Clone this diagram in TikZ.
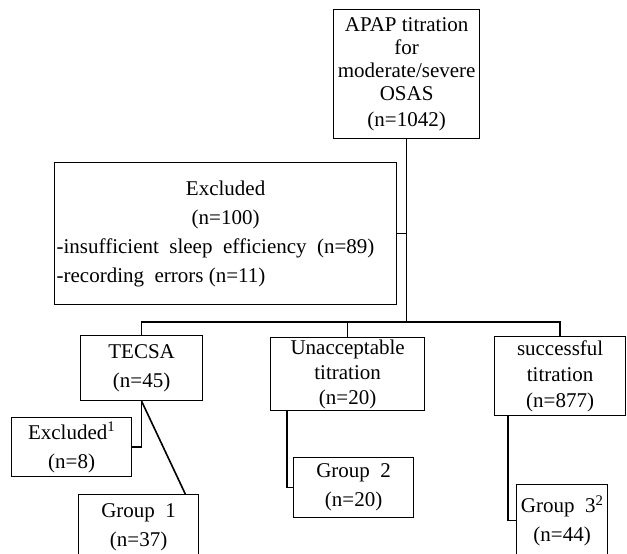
\documentclass[tikz,border=0pt]{standalone}
\usepackage{fontspec}
\setmainfont{Liberation Serif}
\setlength{\parindent}{0pt}

\begin{document}
\begin{tikzpicture}[x=1pt,y=-1pt,
  flowbox/.style={draw,line width=1.3pt,anchor=north west,align=center,inner sep=1pt,
    font=\fontsize{21}{29}\selectfont},
  link/.style={line width=1.6pt}]
\useasboundingbox (0,0) rectangle (627,554);
\clip (0,0) rectangle (627,554);

\node[flowbox,minimum width=146pt,minimum height=129pt,font=\fontsize{21}{23}\selectfont]
  (apap) at (333,9) {APAP titration\\for\\moderate/severe\\OSAS\\[3pt](n=1042)};
\node[flowbox,minimum width=342pt,minimum height=142pt,align=left]
  (excl) at (54,162) {\begin{minipage}{338pt}\centering Excluded\\(n=100)\par\raggedright
  -insufficient\ \ sleep\ \ efficiency\ \ (n=89)\\-recording\ \ errors (n=11)\end{minipage}};

\node[flowbox,minimum width=122pt,minimum height=65pt] (tecsa) at (80,335) {TECSA\\(n=45)};
\node[flowbox,minimum width=154pt,minimum height=73pt,font=\fontsize{21}{25}\selectfont]
  (unacc) at (270,337) {Unacceptable\\titration\\(n=20)};
\node[flowbox,minimum width=131pt,minimum height=79pt,font=\fontsize{21}{26}\selectfont]
  (succ) at (494,336) {successful\\titration\\(n=877)};

\node[flowbox,minimum width=120pt,minimum height=59pt] (exc1) at (11,417) {Excluded\textsuperscript{1}\\(n=8)};
\node[flowbox,minimum width=120pt,minimum height=66pt] (grp1) at (78,494) {Group\ \ 1\\(n=37)};
\node[flowbox,minimum width=120pt,minimum height=60pt] (grp2) at (293,457) {Group\ \ 2\\(n=20)};
\node[flowbox,minimum width=91pt,minimum height=72pt] (grp3) at (516,484) {Group\ \ 3\textsuperscript{2}\\(n=44)};

% connectors
\coordinate (fork) at (apap.south |- 0,322);
\draw[link] (apap.south) -- (fork);
\draw[link] (excl.east) -- (excl.east -| apap.south);
\draw[link] (tecsa.north) |- (fork) -| (succ.north);
\draw[link] (unacc.north) -- (unacc.north |- fork);
\draw[link] (tecsa.south) |- (exc1.east);
\draw[link] (tecsa.south) -- ([xshift=-14pt]grp1.north east);
\draw[link] ([xshift=17pt]unacc.south west) |- (grp2.west);
\draw[link] ([xshift=14pt]succ.south west) |- (grp3.west);
\end{tikzpicture}
\end{document}
